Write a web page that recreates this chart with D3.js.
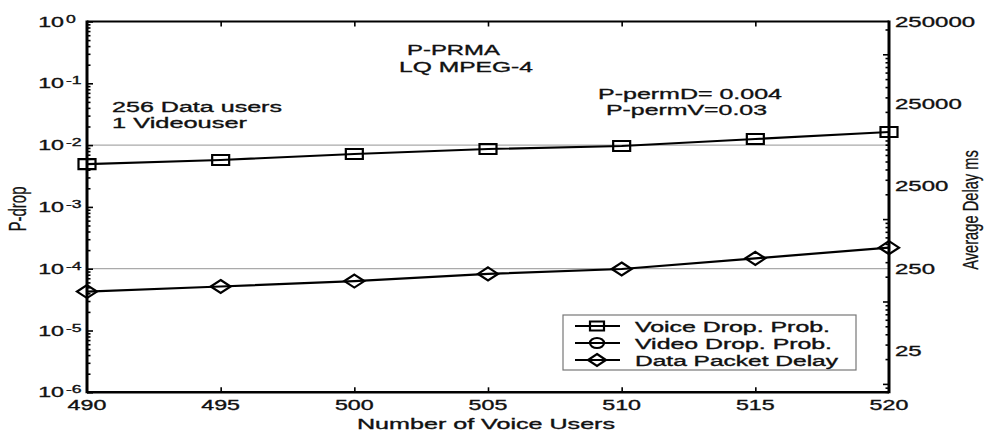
<!DOCTYPE html>
<html>
<head>
<meta charset="utf-8">
<script src="https://cdn.jsdelivr.net/npm/d3@7"></script>
<style>
  html, body { margin: 0; padding: 0; background: #fff; }
  svg { display: block; font-family: "Liberation Sans", Arial, Helvetica, sans-serif; }
  svg text { stroke: #111; stroke-width: 0.35px; }
</style>
</head>
<body>
<svg id="chart" width="988" height="434"></svg>
<script>
// ---- data ----
const voiceUsers = [490, 495, 500, 505, 510, 515, 520];
const voiceDrop  = [0.00494, 0.00574, 0.00718, 0.00865, 0.00967, 0.01256, 0.0163];
const videoDrop  = [0, 0, 0, 0, 0, 0, 0];           // zero: not visible on a log axis
const dataDelay  = [132, 152, 177, 216, 248, 334, 450]; // ms, right axis
const xTickValues = [490, 495, 500, 505, 510, 515, 520];
const leftTickExponents = [0, -1, -2, -3, -4, -5, -6];
const rightTickLabels = [25, 250, 2500, 25000, 250000];
const referenceLevels = [1e-2, 1e-4];
const legendLabels = ["Voice Drop. Prob.", "Video Drop. Prob.", "Data Packet Delay"];

// ---- layout ----
const L = 87, R = 889, T = 21.5, B = 392.3;
const svg = d3.select("#chart");

const x  = d3.scaleLinear().domain([490, 520]).range([L, R]);
const yL = d3.scaleLog().domain([1e-6, 1]).range([B, T]);
const yR = d3.scaleLog().domain([250 / Math.pow(10, 1.5), 250000]).range([B, T]);

function addText(parent, str, px, py, opts) {
  const t = parent.append("text")
    .attr("x", px).attr("y", py)
    .attr("font-size", opts.size)
    .attr("text-anchor", opts.anchor || "start")
    .attr("fill", "#111")
    .text(str);
  const w = t.node().getComputedTextLength();
  const target = opts.width || w * (opts.stretch || 1.6);
  t.attr("textLength", target).attr("lengthAdjust", "spacingAndGlyphs");
  return t;
}

// reference grid lines
svg.append("g").selectAll("line").data(referenceLevels).join("line")
  .attr("x1", L).attr("x2", R)
  .attr("y1", d => yL(d)).attr("y2", d => yL(d))
  .attr("stroke", "#aaa").attr("stroke-width", 1.3);

// ---- axes (ticks inward) ----
const allLeft = yL.ticks();
const majorLeft = allLeft.filter(v => Math.abs(Math.log10(v) - Math.round(Math.log10(v))) < 1e-9);
const minorLeft = allLeft.filter(v => !majorLeft.includes(v));
function tickAxis(axis, sel) {
  sel.call(axis);
  sel.select(".domain").remove();
  sel.selectAll("text").remove();
  sel.selectAll("line").attr("stroke", "#000").attr("stroke-width", 1.6);
}
svg.append("g").attr("transform", `translate(${L},0)`)
  .call(s => tickAxis(d3.axisRight(yL).tickValues(majorLeft).tickSize(6), s));
svg.append("g").attr("transform", `translate(${L},0)`)
  .call(s => tickAxis(d3.axisRight(yL).tickValues(minorLeft).tickSize(3.5), s));

const allRight = yR.ticks();
const majorRight = allRight.filter(v => Math.abs(Math.log10(v) - Math.round(Math.log10(v))) < 1e-9);
const minorRight = allRight.filter(v => !majorRight.includes(v));
svg.append("g").attr("transform", `translate(${R},0)`)
  .call(s => tickAxis(d3.axisLeft(yR).tickValues(majorRight).tickSize(6), s));
svg.append("g").attr("transform", `translate(${R},0)`)
  .call(s => tickAxis(d3.axisLeft(yR).tickValues(minorRight).tickSize(3.5), s));

const innerX = xTickValues.slice(1, -1);
svg.append("g").attr("transform", `translate(0,${B})`)
  .call(s => tickAxis(d3.axisTop(x).tickValues(innerX).tickSize(5), s));
svg.append("g").attr("transform", `translate(0,${T})`)
  .call(s => tickAxis(d3.axisBottom(x).tickValues(innerX).tickSize(5), s));

// frame
svg.append("line").attr("x1", L).attr("x2", R).attr("y1", T).attr("y2", T).attr("stroke", "#000").attr("stroke-width", 2);
svg.append("line").attr("x1", L).attr("x2", R).attr("y1", B).attr("y2", B).attr("stroke", "#000").attr("stroke-width", 2.5);
svg.append("line").attr("x1", L).attr("x2", L).attr("y1", T - 1).attr("y2", B + 1).attr("stroke", "#000").attr("stroke-width", 3);
svg.append("line").attr("x1", R).attr("x2", R).attr("y1", T - 1).attr("y2", B + 1).attr("stroke", "#000").attr("stroke-width", 3);

// ---- tick labels ----
const gx = svg.append("g");
xTickValues.forEach(v => addText(gx, String(v), x(v), 410, { size: 14.5, anchor: "middle" }));

const gl = svg.append("g");
leftTickExponents.forEach(e => {
  const py = yL(Math.pow(10, e));
  addText(gl, "10", 64, py + 5, { size: 14.5, anchor: "end" });
  addText(gl, String(e), 66, py + 1, { size: 11, anchor: "start" });
});

const gr = svg.append("g");
rightTickLabels.forEach(v => addText(gr, String(v), 895, yR(v) + 5, { size: 15, anchor: "start" }));

// axis titles
addText(svg, "Number of Voice Users", 486, 429, { size: 15, anchor: "middle", width: 258 });
svg.append("g").attr("transform", "translate(26,209) scale(1.6,1) rotate(-90)")
  .append("text").attr("text-anchor", "middle").attr("font-size", 15).attr("fill", "#111")
  .style("stroke-width", "0.2px").text("P-drop");
svg.append("g").attr("transform", "translate(978,210) scale(1.55,1) rotate(-90)")
  .append("text").attr("text-anchor", "middle").attr("font-size", 14.7).attr("fill", "#111")
  .style("stroke-width", "0.2px").text("Average Delay ms");

// annotations
addText(svg, "P-PRMA", 407, 55, { size: 15.5, width: 93 });
addText(svg, "LQ MPEG-4", 399, 72, { size: 15.5, width: 134 });
addText(svg, "256 Data users", 112, 112, { size: 15.5, width: 170 });
addText(svg, "1 Videouser", 112, 128, { size: 15.5, width: 135 });
addText(svg, "P-permD= 0.004", 598, 99, { size: 15.5, width: 184 });
addText(svg, "P-permV=0.03", 606, 115, { size: 15.5, width: 161 });

// ---- series ----
const voiceData = voiceUsers.map((u, i) => ({ u, v: voiceDrop[i] }));
const videoData = voiceUsers.map((u, i) => ({ u, v: videoDrop[i] })).filter(d => d.v > 0);
const delayData = voiceUsers.map((u, i) => ({ u, v: dataDelay[i] }));

function squarePath(w, h) { return `M${-w/2},${-h/2}H${w/2}V${h/2}H${-w/2}Z`; }
function diamondPath(w, h) { return `M0,${-h/2}L${w/2},0L0,${h/2}L${-w/2},0Z`; }
function circlePath(w, h) { return `M${-w/2},0A${w/2},${h/2} 0 1,0 ${w/2},0A${w/2},${h/2} 0 1,0 ${-w/2},0Z`; }

function drawSeries(data, yScale, marker) {
  const line = d3.line().x(d => x(d.u)).y(d => yScale(d.v));
  svg.append("path").datum(data).attr("d", line)
    .attr("fill", "none").attr("stroke", "#000").attr("stroke-width", 2.2);
  svg.append("g").selectAll("path").data(data).join("path")
    .attr("transform", d => `translate(${x(d.u)},${yScale(d.v)})`)
    .attr("d", marker)
    .attr("fill", "none").attr("stroke", "#000").attr("stroke-width", 2.2);
}
drawSeries(voiceData, yL, squarePath(17, 10));
if (videoData.length) drawSeries(videoData, yL, circlePath(14, 10));
drawSeries(delayData, yR, diamondPath(20, 13));

// ---- legend ----
const lg = svg.append("g");
lg.append("rect").attr("x", 563).attr("y", 315).attr("width", 293).attr("height", 55)
  .attr("fill", "#fff").attr("stroke", "#777").attr("stroke-width", 1.2);
const legendMarkers = [squarePath(14, 9), circlePath(14, 10), diamondPath(18, 12)];
const legendWidths = [195, 197, 203];
legendLabels.forEach((lab, i) => {
  const cy = 326 + i * 17;
  lg.append("line").attr("x1", 575).attr("x2", 620).attr("y1", cy).attr("y2", cy)
    .attr("stroke", "#000").attr("stroke-width", 2.2);
  lg.append("path").attr("transform", `translate(597,${cy})`).attr("d", legendMarkers[i])
    .attr("fill", "none").attr("stroke", "#000").attr("stroke-width", 2.2);
  addText(lg, lab, 635, cy + 5.5, { size: 14, width: legendWidths[i] });
});
</script>
</body>
</html>
